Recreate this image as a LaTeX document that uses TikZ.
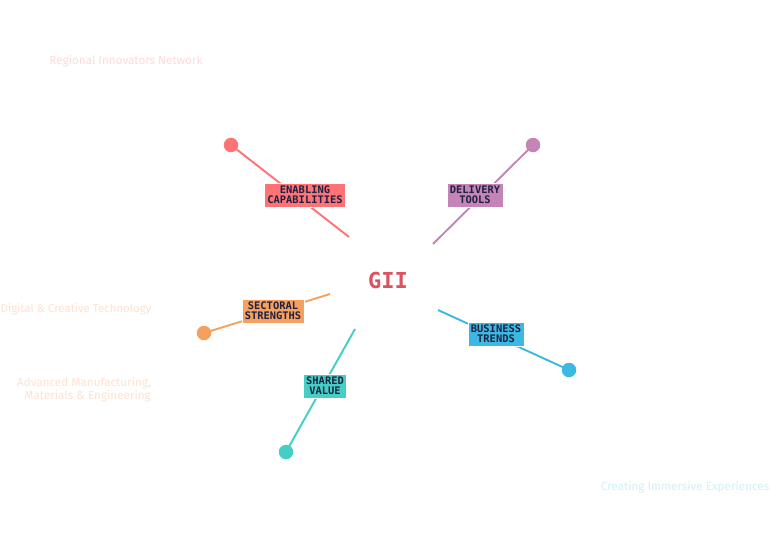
\documentclass[tikz,border=0pt]{standalone}
\usepackage{fontspec}
\setmainfont{Fira Sans}
\newfontfamily\labfont{DejaVu Sans Mono}
\definecolor{cred}{HTML}{FF7275}
\definecolor{cpur}{HTML}{C584B6}
\definecolor{corg}{HTML}{F6A05F}
\definecolor{cteal}{HTML}{45CFC4}
\definecolor{cblue}{HTML}{3CB8E2}
\definecolor{cgii}{HTML}{D9545F}
\definecolor{cink}{HTML}{1E2140}
\definecolor{fpink}{HTML}{FFDADA}
\definecolor{forg}{HTML}{FFE2CF}
\definecolor{fblue}{HTML}{D2EFFA}
\tikzset{
  dotnode/.style={circle,fill=#1,inner sep=0pt,minimum size=14.5pt},
  tag/.style={fill=#1,draw=white,line width=0.6pt,text=cink,font=\labfont\fontsize{10.4}{10.2}\selectfont\bfseries,align=center,inner xsep=3pt,inner ysep=3pt},
  spoke/.style={draw=#1,line width=1.9pt},
  faint/.style={text=#1,font=\fontsize{11.7}{13}\selectfont,inner sep=0pt}
}
\begin{document}
\begin{tikzpicture}[x=1pt,y=-1pt]
\useasboundingbox (0,0) rectangle (770,557);
\fill[white] (0,0) rectangle (770,557);
% faint background labels
\node[faint=fpink] (rin) at (126,61) {Regional Innovators Network};
\node[faint=forg,anchor=west,font=\fontsize{11.4}{13}\selectfont] (dct) at (0.5,309) {Digital \& Creative Technology};
\node[faint=forg,anchor=east,align=right] (amm) at (151,390) {Advanced Manufacturing,\\Materials \& Engineering};
\node[faint=fblue,anchor=east] (cie) at (769.5,487) {Creating Immersive Experiences};
% centre
\node[text=cgii,font=\labfont\fontsize{22}{22}\selectfont\bfseries] (gii) at (388,280) {GII};
% spoke ends
\coordinate (eR) at (349,237);
\coordinate (eP) at (433,244);
\coordinate (eO) at (330,294);
\coordinate (eT) at (355,329);
\coordinate (eB) at (438,310);
% dots
\node[dotnode=cred] (dR) at (231,145) {};
\node[dotnode=cpur] (dP) at (533,145) {};
\node[dotnode=corg] (dO) at (204,333) {};
\node[dotnode=cteal] (dT) at (286,452) {};
\node[dotnode=cblue] (dB) at (569,370) {};
% spokes
\draw[spoke=cred] (dR.center) -- (eR);
\draw[spoke=cpur] (dP.center) -- (eP);
\draw[spoke=corg] (dO.center) -- (eO);
\draw[spoke=cteal] (dT.center) -- (eT);
\draw[spoke=cblue] (dB.center) -- (eB);
% tags
\node[tag=cred] (tR) at (305,195) {ENABLING\\CAPABILITIES};
\node[tag=cpur] (tP) at (475,195) {DELIVERY\\TOOLS};
\node[tag=corg] (tO) at (273,311) {SECTORAL\\STRENGTHS};
\node[tag=cteal] (tT) at (325,386) {SHARED\\VALUE};
\node[tag=cblue] (tB) at (496,334) {BUSINESS\\TRENDS};
\end{tikzpicture}
\end{document}
